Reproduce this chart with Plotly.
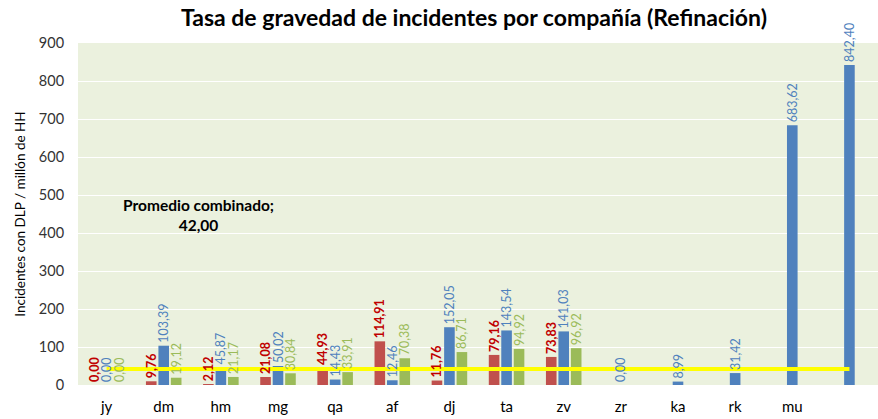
import plotly.graph_objects as go

categories = ["jy", "dm", "hm", "mg", "qa", "af", "dj", "ta", "zv", "zr", "ka", "rk", "mu", ""]
serie_roja = [0.00, 9.76, 2.12, 21.08, 44.93, 114.91, 11.76, 79.16, 73.83, None, None, None, None, None]
serie_azul = [0.00, 103.39, 45.87, 50.02, 14.43, 12.46, 152.05, 143.54, 141.03, 0.00, 8.99, 31.42, 683.62, 842.40]
serie_verde = [0.00, 19.12, 21.17, 30.84, 33.91, 70.38, 86.71, 94.92, 96.92, None, None, None, None, None]
promedio = 42.00
promedio_label = "Promedio combinado;<br>42,00"

FONT = "Lato, Open Sans, sans-serif"

def fmt(v):
    return "" if v is None else f"{v:.2f}".replace(".", ",")

xs = list(range(len(categories)))

series = [
    (serie_roja, "#C0504D", "#C00000", True, "Serie 1"),
    (serie_azul, "#4F81BD", "#4F81BD", False, "Serie 2"),
    (serie_verde, "#9BBB59", "#9BBB59", False, "Serie 3"),
]

fig = go.Figure()
# visible bars (base subplot)
for vals, color, tcolor, bold, name in series:
    fig.add_trace(go.Bar(
        x=xs, y=vals, name=name, marker=dict(color=color, line=dict(width=0)),
        xaxis="x", yaxis="y",
    ))

# average line above the bars
fig.add_trace(go.Scatter(
    x=xs, y=[promedio] * len(xs), mode="lines",
    line=dict(color="#FFFF00", width=4), name="Promedio combinado",
    hoverinfo="skip", xaxis="x", yaxis="y",
))

# data labels on an overlaid subplot so they sit above the line
for vals, color, tcolor, bold, name in series:
    texts = [fmt(v) for v in vals]
    if bold:
        texts = [f"<b>{t}</b>" if t else t for t in texts]
    fig.add_trace(go.Bar(
        x=xs, y=vals, name=name + " etiquetas",
        marker=dict(color="rgba(0,0,0,0)", line=dict(width=0)),
        text=texts, textposition="outside", textangle=-90,
        textfont=dict(color=tcolor, size=12.5, family=FONT),
        cliponaxis=False, constraintext="none", hoverinfo="skip",
        xaxis="x2", yaxis="y2",
    ))

fig.add_annotation(
    x=1.6, y=447, text=f"<b>{promedio_label}</b>", showarrow=False,
    xref="x", yref="y", font=dict(size=15.5, color="#000000", family=FONT),
    align="center",
)

fig.update_layout(
    width=878, height=419,
    margin=dict(l=78, r=0, t=43, b=34),
    paper_bgcolor="white", plot_bgcolor="#EBF1DE",
    showlegend=False,
    barmode="group", bargap=0.345, bargroupgap=0.15,
    title=dict(text="<b>Tasa de gravedad de incidentes por compañía (Refinación)</b>",
               x=474 / 878, xanchor="center", y=1 - 18 / 419, yanchor="middle",
               font=dict(size=23, color="#000000", family=FONT)),
    font=dict(family=FONT),
    xaxis=dict(
        tickmode="array", tickvals=xs, ticktext=categories,
        range=[-0.5, len(xs) - 0.5], showgrid=False, zeroline=False,
        tickfont=dict(size=15, color="#000000", family=FONT),
        ticks="outside", ticklen=8, tickcolor="rgba(0,0,0,0)",
    ),
    yaxis=dict(
        range=[0, 900], dtick=100, showgrid=True, gridcolor="#FFFFFF", gridwidth=1,
        zeroline=False, tickfont=dict(size=14.5, color="#333333", family=FONT),
        ticks="outside", ticklen=10, tickcolor="rgba(0,0,0,0)",
        title=dict(text="Incidentes con DLP / millón de HH",
                   font=dict(size=13.5, color="#000000", family=FONT), standoff=10),
    ),
    xaxis2=dict(overlaying="x", matches="x", visible=False,
                range=[-0.5, len(xs) - 0.5]),
    yaxis2=dict(overlaying="y", matches="y", visible=False, range=[0, 900]),
)

fig.write_html(
    "out.html",
    config={"displayModeBar": False},
    post_script="document.body.style.margin='0px';document.body.style.overflow='hidden';",
)
